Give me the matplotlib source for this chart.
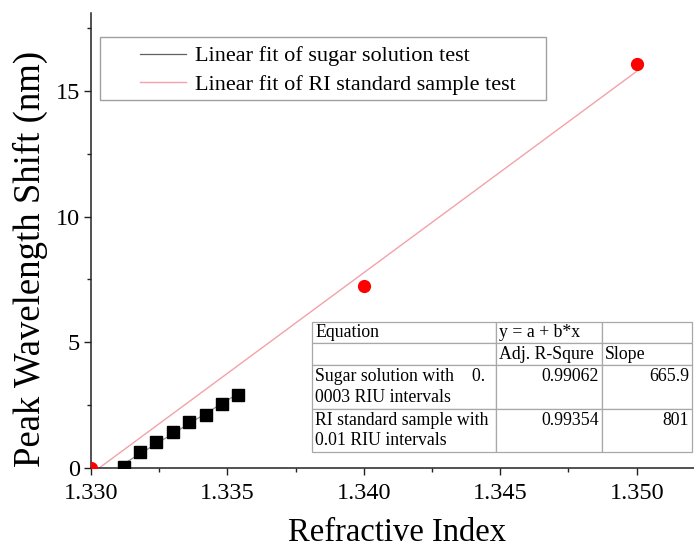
import matplotlib
matplotlib.use("Agg")
import matplotlib.pyplot as plt
from matplotlib.lines import Line2D
from matplotlib.patches import Rectangle
from matplotlib.ticker import MultipleLocator, AutoMinorLocator
import numpy as np

plt.rcParams['font.family'] = ['Liberation Serif', 'DejaVu Serif']

# sugar solution test (black squares)
sugar_ri = np.array([1.3312, 1.3318, 1.3324, 1.3330, 1.3336, 1.3342, 1.3348, 1.3354])
sugar_shift = np.array([0.03, 0.64, 1.03, 1.44, 1.82, 2.12, 2.55, 2.90])
sugar_slope = 665.9
sugar_r2 = 0.99062

# RI standard sample test (red dots)
std_ri = np.array([1.330, 1.340, 1.350])
std_shift = np.array([0.0, 7.25, 16.06])
std_slope = 801
std_r2 = 0.99354

legend_labels = ['Linear fit of sugar solution test', 'Linear fit of RI standard sample test']

# fit lines with the reported slopes, passing through the data centroid
def fit_line(x, y, slope, x_range):
    a = y.mean() - slope * x.mean()
    xs = np.array(x_range)
    return xs, a + slope * xs

fig = plt.figure(figsize=(6.94, 5.48), dpi=100)
ax = fig.add_axes([91/694, 80/548, 603/694, 455/548])

sx, sy = fit_line(sugar_ri, sugar_shift, sugar_slope, [sugar_ri[0], sugar_ri[-1]])
rx, ry = fit_line(std_ri, std_shift, std_slope, [1.328, std_ri[-1]])
ax.plot(sx, sy, color='#909090', lw=0.9, zorder=2)
ax.plot(rx, ry, color='#f2a2aa', lw=1.0, zorder=2)
ax.plot(sugar_ri, sugar_shift, 's', color='black', ms=8, zorder=3)
ax.plot(std_ri, std_shift, 'o', color='#ff0000', ms=8.5, zorder=3)

ax.set_xlim(1.330, 1.3521)
ax.set_ylim(0, 18.1)
ax.xaxis.set_major_locator(MultipleLocator(0.005))
ax.xaxis.set_minor_locator(AutoMinorLocator(2))
ax.yaxis.set_major_locator(MultipleLocator(5))
ax.yaxis.set_minor_locator(AutoMinorLocator(2))
ax.xaxis.set_major_formatter(plt.FormatStrFormatter('%.3f'))
for s in ['top', 'right']:
    ax.spines[s].set_visible(False)
for s in ['left', 'bottom']:
    ax.spines[s].set_linewidth(1.1)
    ax.spines[s].set_color('#222222')
ax.tick_params(which='major', direction='out', length=5, width=1.0, labelsize=17.5, color='#222222')
ax.tick_params(axis='x', which='major', pad=6)
ax.tick_params(axis='y', which='major', pad=3)
ax.tick_params(which='minor', direction='out', length=3, width=1.0, color='#222222')
ax.set_xlabel('Refractive Index', fontsize=23.5)
ax.set_ylabel('Peak Wavelength Shift (nm)', fontsize=26.5)
ax.xaxis.set_label_coords(0.508, -0.108)
ax.yaxis.set_label_coords(-0.072, 0.46)

# legend with a plain rectangular frame
handles = [Line2D([], [], color='#606060', lw=0.9), Line2D([], [], color='#f2a2aa', lw=1.0)]
x0, y0, x1, y1 = (100-91)/603, (468-100)/455, (546-91)/603, (468-37)/455
ax.add_patch(Rectangle((x0, y0), x1 - x0, y1 - y0, transform=ax.transAxes, fill=False,
                       edgecolor='#a0a0a0', lw=1.0, zorder=4))
ax.legend(handles, legend_labels, loc='center',
          bbox_to_anchor=((x0 + x1) / 2 + 0.008, (y0 + y1) / 2 - 0.004),
          frameon=False, fontsize=16, handlelength=2.05, handletextpad=0.4, labelspacing=0.35,
          borderpad=0.2)

# fit summary table
cell_text = [
    ['Equation', 'y = a + b*x', ''],
    ['', 'Adj. R-Squre', 'Slope'],
    ['Sugar solution with    0.\n0003 RIU intervals', f'{sugar_r2:.5f}\n ', f'{sugar_slope}\n '],
    ['RI standard sample with\n0.01 RIU intervals', f'{std_r2:.5f}\n ', f'{std_slope}\n '],
]
col_px = [184, 106, 90]
row_px = [21, 22, 44, 43]
tbl = ax.table(cellText=cell_text, colWidths=[w / 380 for w in col_px],
               bbox=[(312-91)/603, (468-452)/455, 380/603, 130/455], zorder=5)
tbl.auto_set_font_size(False)
tbl.set_fontsize(12.8)
for (r, c), cell in tbl.get_celld().items():
    cell.set_height(row_px[r] / 130)
    cell.set_edgecolor('#a8a8a8')
    cell.set_linewidth(0.9)
    cell.set_facecolor('white')
    cell.PAD = 3 / col_px[c]
    txt = cell.get_text()
    txt.set_horizontalalignment('right' if (r >= 2 and c > 0) else 'left')
    txt.set_linespacing(1.3)

fig.savefig('out.png', dpi=100)
